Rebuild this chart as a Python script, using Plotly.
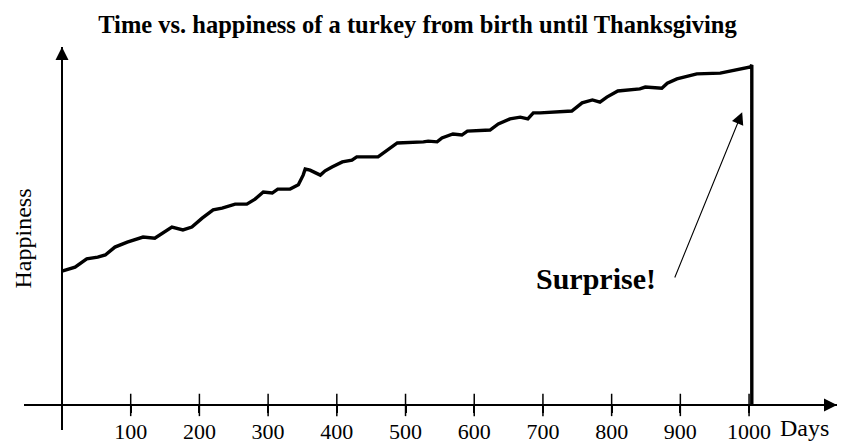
import plotly.graph_objects as go

# happiness (0 = x axis, 100 = top of the y axis)
days = [0, 19, 36, 52, 63, 77, 95, 106, 118, 135, 146, 160, 176, 189, 204,
        220, 233, 252, 269, 281, 293, 306, 314, 332, 344, 351, 354, 361, 376,
        383, 393, 408, 422, 429, 460, 473, 488, 526, 533, 546, 553, 569, 582,
        590, 623, 635, 652, 667, 678, 686, 696, 742, 757, 772, 783, 793, 809,
        841, 849, 873, 881, 895, 924, 958, 972, 991, 1002, 1004, 1004]
happiness = [37.4, 38.5, 40.8, 41.3, 41.9, 44.1, 45.5, 46.1, 46.9, 46.6, 48.0,
             49.7, 48.9, 49.7, 52.2, 54.5, 55.0, 56.1, 56.1, 57.5, 59.5, 59.2,
             60.3, 60.3, 61.5, 64.2, 65.9, 65.6, 64.2, 65.4, 66.5, 67.9, 68.4,
             69.3, 69.3, 71.2, 73.2, 73.5, 73.7, 73.5, 74.6, 75.7, 75.4, 76.5,
             76.8, 78.5, 79.9, 80.4, 79.9, 81.6, 81.6, 82.1, 84.4, 85.2, 84.6,
             86.0, 87.7, 88.3, 88.8, 88.5, 89.9, 91.1, 92.5, 92.7, 93.3, 94.1,
             94.4, 95.0, 0]

tick_days = [100, 200, 300, 400, 500, 600, 700, 800, 900, 1000]
tick_labels = [str(d) for d in tick_days]

serif = "Liberation Serif"

fig = go.Figure()

fig.add_trace(go.Scatter(x = days, y = happiness, mode = 'lines',
                         line = dict(color = 'black', width = 3.4),
                         hoverinfo = 'skip', showlegend = False))

# tick marks crossing the x axis
fig.add_trace(go.Scatter(x = tick_days, y = [0] * len(tick_days), mode = 'markers',
                         marker = dict(symbol = 'line-ns', size = 16,
                                       line = dict(color = 'black', width = 1.5)),
                         hoverinfo = 'skip', showlegend = False, cliponaxis = False))

# page body has an 8px margin, so the figure is 8px smaller than the window
fig.update_layout(
    width = 842, height = 435,
    margin = dict(l = 16, r = 13, t = 39, b = 13),
    paper_bgcolor = 'white', plot_bgcolor = 'white',
    title = dict(text = "<b>Time vs. happiness of a turkey from birth until Thanksgiving</b>",
                 x = 0.4863, y = 0.963, xanchor = 'center', yanchor = 'middle',
                 font = dict(family = serif, size = 24.5, color = 'black')),
    xaxis = dict(range = [-55.3, 1128], anchor = 'free', position = 0.0653,
                 automargin = False,
                 showline = True, linecolor = 'black', linewidth = 2,
                 showgrid = False, zeroline = False,
                 tickvals = tick_days, ticktext = tick_labels,
                 ticks = 'outside', ticklen = 7, tickwidth = 1.5, tickcolor = 'black',
                 tickfont = dict(family = serif, size = 22, color = 'black')),
    yaxis = dict(range = [-7, 100], anchor = 'free', position = 0.0467,
                 automargin = False,
                 showline = True, linecolor = 'black', linewidth = 2,
                 showgrid = False, zeroline = False, showticklabels = False,
                 ticks = '',
                 title = dict(text = "Happiness", standoff = 22,
                              font = dict(family = serif, size = 24, color = 'black'))),
)

# arrow heads on the axes
fig.add_annotation(x = 1128, y = 0, ax = -14, ay = 0, text = '', showarrow = True,
                   arrowhead = 2, arrowsize = 1.3, arrowwidth = 2, arrowcolor = 'black')
fig.add_annotation(x = 0, y = 100, ax = 0, ay = 14, text = '', showarrow = True,
                   arrowhead = 2, arrowsize = 1.3, arrowwidth = 2, arrowcolor = 'black')

fig.add_annotation(x = 1080, y = -6.4, text = "Days", showarrow = False,
                   font = dict(family = serif, size = 24, color = 'black'))

fig.add_annotation(x = 990, y = 81.8, ax = 891, ay = 35.2, axref = 'x', ayref = 'y',
                   text = '', showarrow = True, arrowhead = 2, arrowsize = 2.2,
                   arrowwidth = 1.1, arrowcolor = 'black')
fig.add_annotation(x = 777, y = 35.2, text = "<b>Surprise!</b>", showarrow = False,
                   font = dict(family = serif, size = 30, color = 'black'))

fig.write_html("out.html")
